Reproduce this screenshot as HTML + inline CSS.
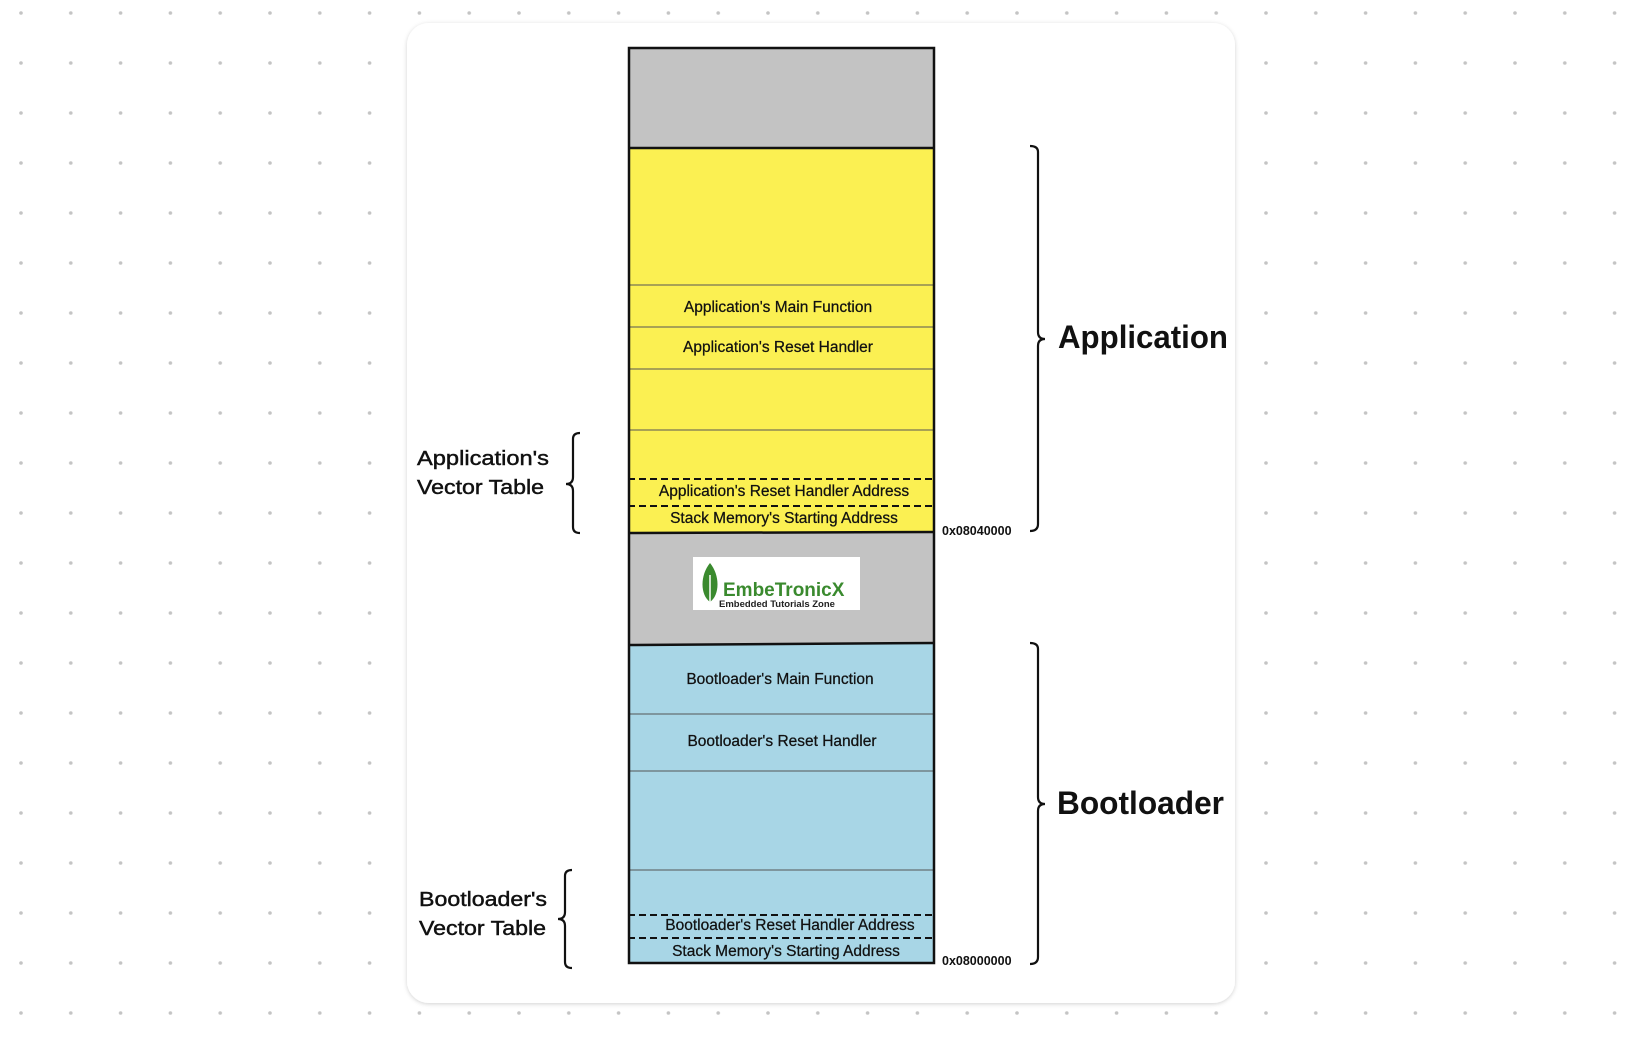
<!DOCTYPE html>
<html><head><meta charset="utf-8"><style>
html,body{margin:0;padding:0;background:#fff;width:1638px;height:1040px;overflow:hidden}
svg{display:block}
text{font-family:"Liberation Sans",sans-serif;fill:#111}
.m{stroke:#111;stroke-width:0.35}
</style></head><body>
<svg width="1638" height="1040" viewBox="0 0 1638 1040" xmlns="http://www.w3.org/2000/svg">
<defs>
<pattern id="dots" x="21" y="13" width="49.8" height="50" patternUnits="userSpaceOnUse">
<circle cx="0" cy="0" r="1.8" fill="#c4c4c4"/><circle cx="49.8" cy="0" r="1.8" fill="#c4c4c4"/><circle cx="0" cy="50" r="1.8" fill="#c4c4c4"/><circle cx="49.8" cy="50" r="1.8" fill="#c4c4c4"/>
</pattern>
<filter id="sh" x="-5%" y="-5%" width="110%" height="110%"><feDropShadow dx="0" dy="1" stdDeviation="2" flood-color="#000" flood-opacity="0.18"/></filter>
</defs>
<rect x="0" y="0" width="1638" height="1040" fill="url(#dots)"/>
<rect x="407" y="23" width="828" height="980" rx="22" fill="#fff" filter="url(#sh)"/>

<!-- column -->
<rect x="628" y="47" width="307" height="101" fill="#c3c3c3"/>
<rect x="628" y="148" width="307" height="385" fill="#fbf052"/>
<rect x="628" y="533" width="307" height="112" fill="#c3c3c3"/>
<rect x="628" y="644" width="307" height="320" fill="#a8d6e6"/>
<g stroke="#555" stroke-width="1">
<line x1="628" y1="285" x2="935" y2="285"/><line x1="628" y1="327" x2="935" y2="327"/>
<line x1="628" y1="369" x2="935" y2="369"/><line x1="628" y1="430" x2="935" y2="430"/>
<line x1="628" y1="714" x2="935" y2="714"/><line x1="628" y1="771" x2="935" y2="771"/>
<line x1="628" y1="870" x2="935" y2="870"/>
</g>
<g stroke="#111" stroke-width="2" stroke-dasharray="7,4">
<line x1="628" y1="479" x2="935" y2="479"/><line x1="628" y1="506" x2="935" y2="506"/>
<line x1="628" y1="915" x2="935" y2="915"/><line x1="628" y1="938" x2="935" y2="938"/>
</g>
<g stroke="#111" stroke-width="2.5" fill="none">
<line x1="628" y1="148" x2="935" y2="148"/><line x1="628" y1="533" x2="935" y2="532"/>
<line x1="628" y1="645" x2="935" y2="643"/>
<rect x="629" y="48" width="305" height="915"/>
</g>

<g font-size="15.5" text-anchor="middle" class="m" style="stroke-width:0.25">
<text x="778" y="312">Application's Main Function</text>
<text x="778" y="352">Application's Reset Handler</text>
<text x="784" y="496">Application's Reset Handler Address</text>
<text x="784" y="523">Stack Memory's Starting Address</text>
<text x="780" y="684">Bootloader's Main Function</text>
<text x="782" y="746">Bootloader's Reset Handler</text>
<text x="790" y="930">Bootloader's Reset Handler Address</text>
<text x="786" y="956">Stack Memory's Starting Address</text>
</g>

<!-- logo -->
<rect x="693" y="557" width="167" height="53" fill="#fff"/>
<path d="M710 563 C700 575 700 595 710 602 C720 595 720 575 710 563Z" fill="#3a8a2e"/>
<line x1="710" y1="575" x2="710" y2="608" stroke="#fff" stroke-width="1.5"/>
<text x="723" y="596" font-family="Liberation Mono,monospace" font-weight="bold" font-size="19" style="fill:#3a8a2e">EmbeTronicX</text>
<text x="719" y="607" font-size="9.5" font-weight="bold" style="fill:#222">Embedded Tutorials Zone</text>

<g font-size="12.5" font-weight="bold">
<text x="942" y="535">0x08040000</text>
<text x="942" y="965">0x08000000</text>
</g>

<!-- braces -->
<g stroke="#111" stroke-width="2.2" fill="none">
<path d="M1030 146 Q1038 146 1038 152 L1038 332 Q1038 339 1045 339 Q1038 339 1038 346 L1038 524 Q1038 531 1030 531"/>
<path d="M1030 643 Q1038 643 1038 649 L1038 797 Q1038 804 1045 804 Q1038 804 1038 811 L1038 957 Q1038 964 1030 964"/>
<path d="M580 433 Q573 433 573 439 L573 477 Q573 484 566 484 Q573 484 573 491 L573 527 Q573 533 580 533"/>
<path d="M572 870 Q565 870 565 876 L565 912 Q565 919 558 919 Q565 919 565 926 L565 962 Q565 968 572 968"/>
</g>
<text x="1058" y="348" font-size="32" font-weight="bold" textLength="170" lengthAdjust="spacingAndGlyphs">Application</text>
<text x="1057" y="814" font-size="32" font-weight="bold" textLength="167" lengthAdjust="spacingAndGlyphs">Bootloader</text>
<g font-size="20" class="m" style="stroke-width:0.45">
<text x="417" y="465" textLength="132" lengthAdjust="spacingAndGlyphs">Application's</text>
<text x="417" y="494" textLength="127" lengthAdjust="spacingAndGlyphs">Vector Table</text>
<text x="419" y="906" textLength="128" lengthAdjust="spacingAndGlyphs">Bootloader's</text>
<text x="419" y="935" textLength="127" lengthAdjust="spacingAndGlyphs">Vector Table</text>
</g>
</svg>
</body></html>
